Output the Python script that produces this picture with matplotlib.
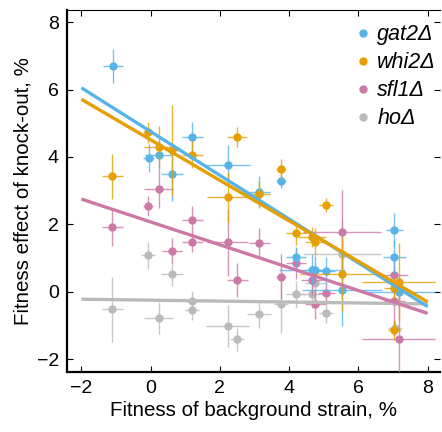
import matplotlib
matplotlib.use("Agg")
import matplotlib.pyplot as plt
from matplotlib.lines import Line2D

plt.rcParams['font.family'] = ['Liberation Sans', 'DejaVu Sans']

# ---- data ----
labels = ["gat2Δ", "whi2Δ", "sfl1Δ", "hoΔ"]
colors = ["#56B4E9", "#E69F00", "#CC79A7", "#BBBBBB"]

gat2_x = [-1.09, -0.06, 0.23, 0.62, 1.20, 2.22, 3.14, 3.76, 4.20, 4.65, 4.75, 5.07, 5.52, 7.04, 7.04, 7.16]
gat2_y = [6.70, 3.96, 4.06, 3.48, 4.58, 3.76, 2.97, 3.29, 1.04, 0.66, 0.66, 0.62, 0.05, 1.83, 1.04, 0.00]
gat2_xerr = [0.30, 0.16, 0.40, 0.32, 0.30, 0.66, 0.30, 0.15, 0.30, 0.95, 0.30, 0.25, 1.15, 0.25, 0.33, 1.06]
gat2_yerr = [0.50, 0.42, 0.45, 0.80, 0.45, 0.60, 0.45, 0.20, 0.30, 0.45, 0.40, 0.40, 1.07, 0.50, 0.50, 0.45]

whi2_x = [-1.11, -0.08, 0.23, 0.62, 1.20, 2.49, 2.22, 3.14, 3.76, 5.07, 4.20, 4.65, 4.75, 5.52, 7.16, 7.04, 7.04]
whi2_y = [3.43, 4.73, 4.30, 4.20, 4.06, 4.58, 2.82, 2.90, 3.63, 2.57, 1.73, 1.63, 1.48, 0.52, 0.30, 0.10, -1.14]
whi2_xerr = [0.30, 0.15, 0.43, 0.20, 0.30, 0.28, 0.60, 0.30, 0.15, 0.20, 0.30, 0.40, 0.30, 1.20, 1.06, 0.30, 0.20]
whi2_yerr = [0.67, 0.32, 0.63, 1.35, 0.40, 0.30, 0.74, 0.40, 0.30, 0.20, 0.35, 0.30, 0.40, 1.10, 1.15, 0.30, 0.30]

sfl1_x = [-1.11, -0.08, 0.23, 0.62, 1.20, 1.20, 2.22, 3.14, 2.50, 3.76, 4.20, 4.65, 4.75, 5.07, 5.52, 7.04, 7.04, 7.16]
sfl1_y = [1.93, 2.55, 3.05, 1.22, 2.13, 1.47, 1.47, 1.44, 0.35, 0.45, 0.84, 0.35, -0.37, -0.03, 1.76, 0.50, -0.28, -1.41]
sfl1_xerr = [0.30, 0.15, 0.43, 0.30, 0.30, 0.30, 0.60, 0.30, 0.30, 0.15, 0.30, 0.30, 0.30, 0.25, 1.13, 0.40, 0.30, 1.06]
sfl1_yerr = [0.57, 0.30, 0.55, 0.38, 0.40, 0.30, 1.00, 0.45, 0.50, 0.67, 0.45, 0.45, 0.45, 0.30, 1.25, 0.45, 1.00, 1.65]

ho_x = [-1.11, -0.08, 0.23, 0.62, 1.20, 1.20, 2.22, 2.50, 3.14, 3.76, 4.20, 4.65, 4.75, 5.07, 5.52, 7.06]
ho_y = [-0.52, 1.09, -0.77, 0.52, -0.28, -0.54, -1.02, -1.41, -0.66, -0.37, -0.08, -0.08, 0.25, -0.62, 1.12, -1.08]
ho_xerr = [0.30, 0.20, 0.43, 0.32, 0.20, 0.20, 0.63, 0.20, 0.35, 0.20, 0.30, 0.45, 0.30, 0.20, 1.13, 0.20]
ho_yerr = [0.96, 0.40, 0.48, 0.35, 0.30, 0.30, 0.62, 0.35, 0.40, 0.86, 0.40, 0.40, 0.60, 0.30, 1.00, 0.20]

fit_x = [-2.0, 8.0]
gat2_fit = [6.05, -0.44]
whi2_fit = [5.71, -0.30]
sfl1_fit = [2.75, -0.64]
ho_fit = [-0.22, -0.36]

xticks = [-2, 0, 2, 4, 6, 8]
yticks = [-2, 0, 2, 4, 6, 8]

# ---- plot ----
fig = plt.figure(figsize=(4.42, 4.32), dpi=100)
ax = fig.add_axes([0.152, 0.1396, 0.843, 0.8374])

series = [
    (ho_x, ho_y, ho_xerr, ho_yerr, ho_fit, colors[3]),
    (sfl1_x, sfl1_y, sfl1_xerr, sfl1_yerr, sfl1_fit, colors[2]),
    (gat2_x, gat2_y, gat2_xerr, gat2_yerr, gat2_fit, colors[0]),
    (whi2_x, whi2_y, whi2_xerr, whi2_yerr, whi2_fit, colors[1]),
]
for i, (x, y, xe, ye, fit, c) in enumerate(series):
    eb = ax.errorbar(x, y, xerr=xe, yerr=ye, fmt='o', color=c, ms=5,
                     elinewidth=1.0, capsize=0, zorder=2 + i)
    for art in eb[2]:
        art.set_alpha(0.8)
for i, (x, y, xe, ye, fit, c) in enumerate(series):
    ax.plot(fit_x, fit, color=c, lw=2.4, solid_capstyle='butt', zorder=7 + i)

ax.set_xlim(-2.41, 8.35)
ax.set_ylim(-2.37, 8.36)
ax.set_xticks(xticks)
ax.set_yticks(yticks)
ax.set_xticklabels(["\u22122" if t == -2 else str(t) for t in xticks])
ax.set_yticklabels(["\u22122" if t == -2 else str(t) for t in yticks])
ax.tick_params(direction='in', top=True, right=True, length=4, width=0.8,
               labelsize=14, pad=6)
ax.spines['left'].set_linewidth(1.6)
ax.spines['bottom'].set_linewidth(1.6)
ax.spines['top'].set_linewidth(0.8)
ax.spines['right'].set_visible(False)

ax.set_xlabel("Fitness of background strain, %", fontsize=14.8, labelpad=3)
ax.set_ylabel("Fitness effect of knock-out, %", fontsize=14.8, labelpad=3)

handles = [Line2D([0], [0], marker='o', color='none', markerfacecolor=c,
                  markeredgecolor=c, ms=5) for c in colors]
leg = ax.legend(handles, labels, loc='upper left', frameon=False,
                prop={'style': 'italic', 'size': 15.5}, handletextpad=0.26,
                handlelength=0.8, labelspacing=0.33, borderpad=0,
                borderaxespad=0, bbox_to_anchor=(0.771, 0.961))

fig.savefig("out.png", dpi=100)
